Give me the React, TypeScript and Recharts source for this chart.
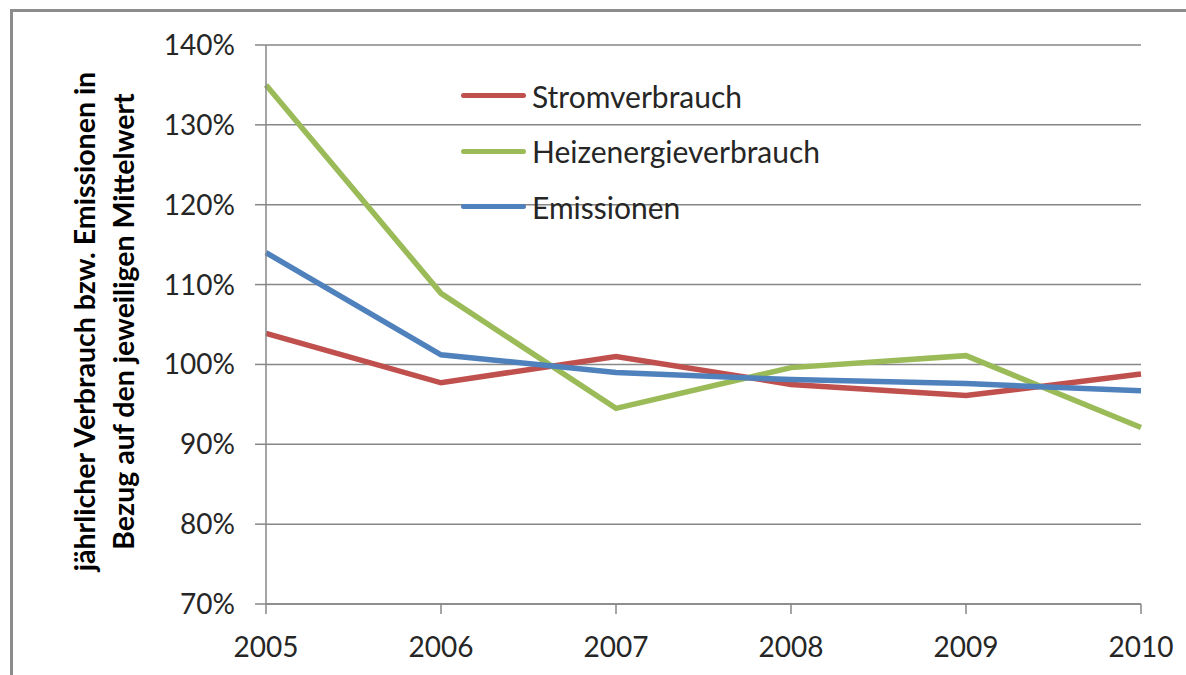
import React from 'react';
import { CartesianGrid, Label, Legend, Line, LineChart, XAxis, YAxis } from 'recharts';

const years = ['2005', '2006', '2007', '2008', '2009', '2010'];
const strom = [103.9, 97.7, 101.0, 97.5, 96.1, 98.8];
const heiz = [135.0, 108.9, 94.5, 99.6, 101.1, 92.1];
const emis = [114.0, 101.2, 99.0, 98.1, 97.6, 96.7];
const yTicks = [70, 80, 90, 100, 110, 120, 130, 140];
const seriesNames = ['Stromverbrauch', 'Heizenergieverbrauch', 'Emissionen'];

const FONT = 'Lato, "Open Sans", sans-serif';
const TEXT = '#262626';
const GRID = '#878787';

const data = years.map((year, i) => ({
  year,
  strom: strom[i],
  heiz: heiz[i],
  emis: emis[i],
}));

function LegendBox({ payload }: any) {
  const items = [...(payload ?? [])].sort(
    (a: any, b: any) => seriesNames.indexOf(a.value) - seriesNames.indexOf(b.value),
  );
  return (
    <div style={{ fontFamily: FONT, fontSize: 30, color: TEXT, lineHeight: 1 }}>
      {items.map((p: any) => (
        <div key={p.value} style={{ display: 'flex', alignItems: 'center', height: 55.5 }}>
          <span
            style={{
              display: 'inline-block',
              width: 65,
              height: 5,
              borderRadius: 3,
              background: p.color,
              marginRight: 6,
            }}
          />
          <span>{p.value}</span>
        </div>
      ))}
    </div>
  );
}

function AxisTitle({ viewBox }: any) {
  const cy = viewBox ? viewBox.y + viewBox.height / 2 - 3 : 322;
  const style = { fontFamily: FONT, fontSize: 28.5, fontWeight: 700, fill: '#000' };
  return (
    <g>
      <text x={84} y={cy} transform={`rotate(-90 84 ${cy})`} textAnchor="middle" dominantBaseline="central" style={style}>
        jährlicher Verbrauch bzw. Emissionen in
      </text>
      <text x={123} y={cy} transform={`rotate(-90 123 ${cy})`} textAnchor="middle" dominantBaseline="central" style={style}>
        Bezug auf den jeweiligen Mittelwert
      </text>
    </g>
  );
}

export default function App() {
  return (
    <div style={{ position: 'absolute', left: 0, top: 0, width: 1186, height: 675, background: '#fff', overflow: 'hidden' }}>
      <div
        style={{
          position: 'absolute',
          left: 10,
          top: 9,
          width: 1200,
          height: 700,
          borderLeft: '3px solid #8c8c8c',
          borderTop: '3px solid #8c8c8c',
        }}
      />
      <div style={{ position: 'absolute', left: 0, top: 0 }}>
        <LineChart width={1186} height={675} data={data} margin={{ top: 45, right: 45, bottom: 0, left: 116 }}>
          <CartesianGrid vertical={false} stroke={GRID} strokeWidth={1.5} />
          <XAxis
            dataKey="year"
            height={71}
            axisLine={{ stroke: GRID, strokeWidth: 1.5 }}
            tickLine={{ stroke: GRID, strokeWidth: 1.5 }}
            tickSize={10}
            tickMargin={23}
            tick={{ fontFamily: FONT, fontSize: 28, fill: TEXT }}
          />
          <YAxis
            width={150}
            domain={[70, 140]}
            ticks={yTicks}
            interval={0}
            allowDataOverflow
            axisLine={{ stroke: GRID, strokeWidth: 1.5 }}
            tickLine={{ stroke: GRID, strokeWidth: 1.5 }}
            tickSize={11}
            tickMargin={20}
            tickFormatter={(v) => `${v}%`}
            tick={{ fontFamily: FONT, fontSize: 28, fill: TEXT }}
          >
            <Label content={<AxisTitle />} />
          </YAxis>
          <Legend
            layout="vertical"
            verticalAlign="middle"
            align="center"
            wrapperStyle={{ left: 461, top: 68, width: 420 }}
            content={<LegendBox />}
          />
          <Line dataKey="strom" name="Stromverbrauch" stroke="#C0504D" strokeWidth={5.5} dot={false} isAnimationActive={false} />
          <Line dataKey="heiz" name="Heizenergieverbrauch" stroke="#9BBB59" strokeWidth={5.5} dot={false} isAnimationActive={false} />
          <Line dataKey="emis" name="Emissionen" stroke="#4F81BD" strokeWidth={5.5} dot={false} isAnimationActive={false} />
        </LineChart>
      </div>
    </div>
  );
}
